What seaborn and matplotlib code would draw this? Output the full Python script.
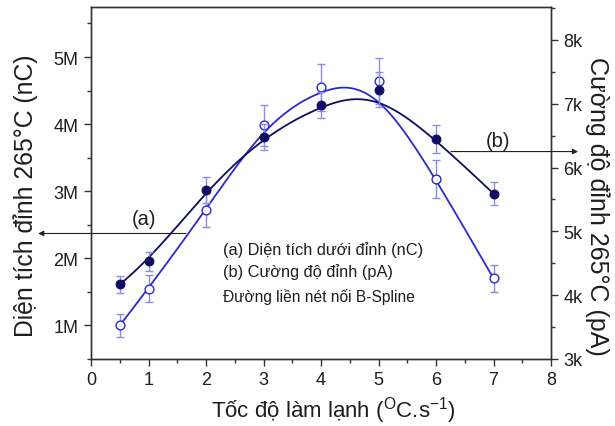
import numpy as np
import pandas as pd
import matplotlib
matplotlib.use("Agg")
import matplotlib.pyplot as plt
import seaborn as sns
from matplotlib.ticker import FuncFormatter, MultipleLocator

# ---- data ----
rate = [0.5, 1, 2, 3, 4, 5, 6, 7]
area_nC = [1.00e6, 1.55e6, 2.72e6, 3.98e6, 4.55e6, 4.64e6, 3.18e6, 1.70e6]
area_err = [0.17e6, 0.20e6, 0.26e6, 0.30e6, 0.35e6, 0.34e6, 0.28e6, 0.20e6]
peak_pA = [4170, 4530, 5650, 6480, 6980, 7220, 6440, 5590]
peak_err = [130, 150, 200, 200, 210, 270, 220, 180]
xticks = [0, 1, 2, 3, 4, 5, 6, 7, 8]
left_ticks = [1e6, 2e6, 3e6, 4e6, 5e6]
right_ticks = [3000, 4000, 5000, 6000, 7000, 8000]
legend_lines = ["(a) Diện tích dưới đỉnh (nC)", "(b) Cường độ đỉnh (pA)",
                "Đường liền nét nối B-Spline"]

sns.set_style("ticks")
plt.rcParams['font.family'] = ['Liberation Sans', 'DejaVu Sans']
plt.rcParams['mathtext.fontset'] = 'custom'
plt.rcParams['mathtext.rm'] = 'Liberation Sans'
plt.rcParams['mathtext.it'] = 'Liberation Sans'


def bspline(xs, ys, n=400, k=3):
    P = np.column_stack([xs, ys]).astype(float)
    m = len(P)
    knots = np.concatenate([np.zeros(k), np.linspace(0, 1, m - k + 1), np.ones(k)])
    t = np.linspace(0, 1, n)
    t[-1] -= 1e-10
    N = np.zeros((n, len(knots) - 1))
    for i in range(len(knots) - 1):
        N[:, i] = (t >= knots[i]) & (t < knots[i + 1])
    for d in range(1, k + 1):
        Nn = np.zeros((n, len(knots) - 1 - d))
        for i in range(len(knots) - 1 - d):
            a = knots[i + d] - knots[i]
            b = knots[i + d + 1] - knots[i + 1]
            term = np.zeros(n)
            if a > 0:
                term += (t - knots[i]) / a * N[:, i]
            if b > 0:
                term += (knots[i + d + 1] - t) / b * N[:, i + 1]
            Nn[:, i] = term
        N = Nn
    C = N @ P
    return C[:, 0], C[:, 1]


c_open = "#2a2ad0"
c_open_err = "#8c8ce6"
c_dark = "#0e0e62"
c_text = "#1e1e1e"

fig = plt.figure(figsize=(6.15, 4.27), dpi=100)
ax = fig.add_axes([0.148, 0.157, 0.748, 0.825])
ax2 = ax.twinx()

df_a = pd.DataFrame({"rate": rate, "val": area_nC})
df_b = pd.DataFrame({"rate": rate, "val": peak_pA})

# series (a) - open markers, left axis
cx, cy = bspline(rate, area_nC)
sns.lineplot(x=cx, y=cy, ax=ax, sort=False, estimator=None, color=c_open, lw=1.3)
ax.errorbar(rate, area_nC, yerr=area_err, fmt='none', ecolor=c_open_err,
            elinewidth=1.0, capsize=2.8, capthick=1.0)
sns.scatterplot(data=df_a, x="rate", y="val", ax=ax, s=40, marker='o',
                facecolor='white', edgecolor=c_open, linewidth=1.0, zorder=5)

# series (b) - filled markers, right axis
bx, by = bspline(rate, peak_pA)
sns.lineplot(x=bx, y=by, ax=ax2, sort=False, estimator=None, color=c_dark, lw=1.3)
ax2.errorbar(rate, peak_pA, yerr=peak_err, fmt='none', ecolor=c_open_err,
             elinewidth=1.0, capsize=2.8, capthick=1.0)
sns.scatterplot(data=df_b, x="rate", y="val", ax=ax2, s=40, marker='o',
                color=c_dark, edgecolor=c_dark, linewidth=0.8, zorder=5)

ax.set_xlim(0, 8)
ax.set_ylim(0.5e6, 5.75e6)
ax2.set_ylim(3000, 8520)

ax.set_xticks(xticks)
ax.xaxis.set_minor_locator(MultipleLocator(0.5))
ax.set_yticks(left_ticks)
ax.yaxis.set_minor_locator(MultipleLocator(0.5e6))
ax2.set_yticks(right_ticks)
ax2.yaxis.set_minor_locator(MultipleLocator(500))
ax.yaxis.set_major_formatter(FuncFormatter(lambda v, p: f"{v/1e6:g}M"))
ax2.yaxis.set_major_formatter(FuncFormatter(lambda v, p: f"{v/1e3:g}k"))

for a in (ax, ax2):
    for s in a.spines.values():
        s.set_color("#333333")
        s.set_linewidth(1.0)
    a.tick_params(which='major', length=5, width=1.0, color="#333333",
                  labelsize=13, labelcolor=c_text, pad=4)
    a.tick_params(which='minor', length=3, width=1.0, color="#333333")

ax.set_xlabel(r"Tốc độ làm lạnh ($^{\mathrm{O}}$C.s$^{-1}$)", fontsize=16, color=c_text)
ax.xaxis.set_label_coords(0.526, -0.145)
ax.xaxis.label.set(va='center', ha='center')

ax.set_ylabel("Diện tích đỉnh 265°C (nC)", fontsize=17.8, color=c_text)
ax.yaxis.set_label_coords(-0.143, 0.466)
ax.yaxis.label.set(va='center', ha='center', rotation_mode='default')

ax2.set_ylabel("Cường độ đỉnh 265°C (pA)", fontsize=18, color=c_text, rotation=270)
ax2.yaxis.set_label_coords(1.1, 0.435)
ax2.yaxis.label.set(va='center', ha='center', rotation_mode='default')

# annotation arrows
ax.annotate("", xy=(-0.92, 2.37e6), xytext=(1.65, 2.37e6),
            arrowprops=dict(arrowstyle='-|>', color='#222222', lw=0.8,
                            mutation_scale=8, shrinkA=0, shrinkB=0),
            annotation_clip=False)
ax.text(0.92, 2.6e6, "(a)", fontsize=14.5, color=c_text, ha='center', va='center')
ax2.annotate("", xy=(8.47, 6250), xytext=(6.26, 6250),
             arrowprops=dict(arrowstyle='-|>', color='#222222', lw=0.8,
                             mutation_scale=8, shrinkA=0, shrinkB=0),
             annotation_clip=False)
ax2.text(7.08, 6420, "(b)", fontsize=14.5, color=c_text, ha='center', va='center')

ys = [0.3125, 0.25, 0.179]
sizes = [11.8, 11.8, 11.2]
for txt, yy, fs in zip(legend_lines, ys, sizes):
    ax.text(0.287, yy, txt, transform=ax.transAxes, fontsize=fs,
            color=c_text, ha='left', va='center')

fig.savefig("out.png", dpi=100)
